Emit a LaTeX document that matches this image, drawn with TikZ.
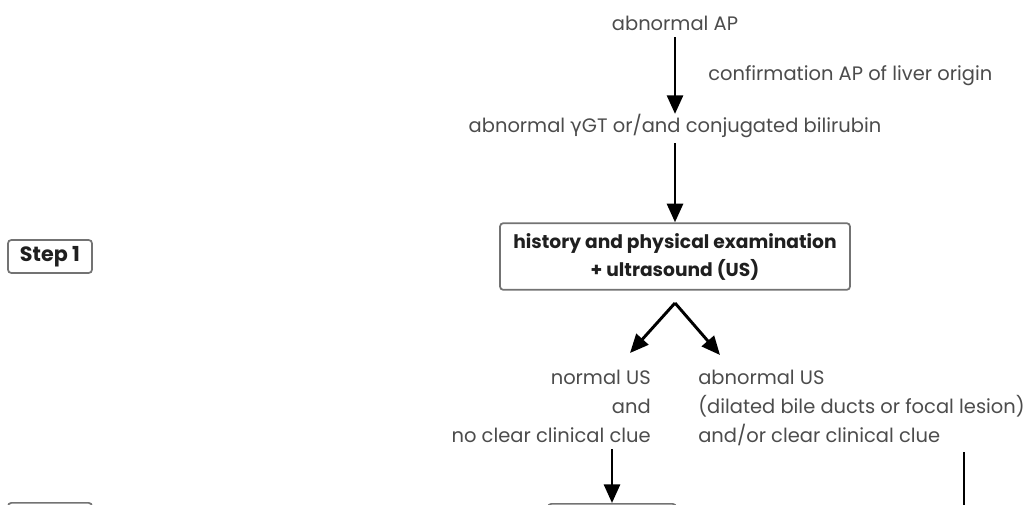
\documentclass[tikz,border=0pt]{standalone}
\usepackage{fontspec}
\setmainfont{Poppins}
\newfontfamily\gk{DejaVu Sans}
\usetikzlibrary{arrows.meta}
\begin{document}
\begin{tikzpicture}[x=0.75pt,y=-0.75pt,
  txt/.style={text=black!70, font=\fontsize{14.6}{21.5}\selectfont, inner sep=0pt},
  btxt/.style={text=black!88, font=\bfseries\fontsize{14}{21}\selectfont},
  bx/.style={draw=black!55, line width=1.3pt, rounded corners=2.5pt},
  arr/.style={line width=2.2pt, -{Triangle[width=12pt,length=14pt]}},
  ln/.style={line width=2.2pt},
]
\useasboundingbox (0,0) rectangle (1031,504);
\fill[white] (0,0) rectangle (1031,504);
\clip (0,0) rectangle (1031,504);

\node[txt] (ap) at (675,23) {abnormal AP};
\node[txt, anchor=west] (conf) at (708,76) {confirmation AP of liver origin};
\node[txt] (ggt) at (675,126) {abnormal {\gk γ}GT or/and conjugated bilirubin};
\node[bx, btxt, minimum width=262.5pt, minimum height=50pt, align=center, inner sep=0pt] (hx) at (675,256.5) {history and physical examination\\+ ultrasound (US)};
\node[bx, btxt, font=\bfseries\fontsize{15.5}{21}\selectfont, minimum width=63pt, minimum height=24.75pt, inner sep=0pt] (s1) at (50,256.5) {Step 1};

\node[txt, align=right, anchor=north east] (nus) at (651,370) {normal US\\and\\no clear clinical clue};
\node[txt, align=left, anchor=north west] (aus) at (698,370) {abnormal US\\(dilated bile ducts or focal lesion)\\and/or clear clinical clue};

\node[bx, minimum width=63pt, minimum height=30pt, anchor=north] (s2) at (50,502) {};
\node[bx, minimum width=96pt, minimum height=40pt, anchor=north] (b2) at (612,503) {};

\coordinate (apex) at (675,303);
\coordinate (tipL) at (630,353);
\coordinate (tipR) at (720,355);
\coordinate (rTop) at (964,452);
\coordinate (rEnd) at (964,540);

\draw[arr, shorten <=5pt] (ap) -- (ggt);
\draw[arr, shorten <=4pt] (ggt) -- (hx);
\draw[arr] (apex) -- (tipL);
\draw[arr] (apex) -- (tipR);
\draw[arr, shorten <=5pt] (nus.south -| b2.north) -- (b2.north);
\draw[ln] (rTop) -- (rEnd);
\end{tikzpicture}
\end{document}
